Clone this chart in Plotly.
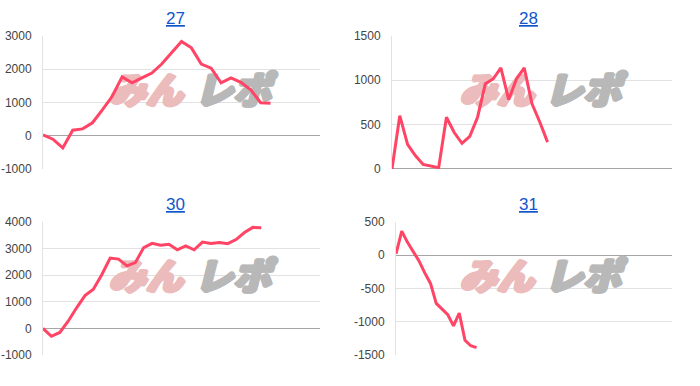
import plotly.graph_objects as go

W, H = 700, 386

titles = ["27", "28", "30", "31"]
values_27 = [20, -107, -369, 165, 204, 388, 777, 1184, 1767, 1592, 1738, 1883, 2155, 2495,
             2835, 2641, 2155, 2029, 1592, 1738, 1602, 1379, 990, 971]
values_28 = [0, 600, 277, 151, 50, 29, 14, 583, 410, 288, 367, 583, 960, 1014, 1140, 781,
             1014, 1140, 734, 529, 302]
values_30 = [0, -301, -157, 265, 771, 1229, 1470, 2012, 2639, 2602, 2349, 2470, 3036, 3193,
             3120, 3157, 2952, 3096, 2952, 3241, 3193, 3229, 3181, 3337, 3602, 3795, 3783]
values_31 = [20, 362, 193, 48, -87, -266, -425, -725, -812, -894, -1063, -870, -1280, -1362, -1391]
series = [values_27, values_28, values_30, values_31]

x_spans = [28, 36, 33, 48]
y_ranges = [(-1000, 3000), (0, 1500), (-1000, 4000), (-1500, 500)]
y_ticks = [[-1000, 0, 1000, 2000, 3000], [0, 500, 1000, 1500],
           [-1000, 0, 1000, 2000, 3000, 4000], [-1500, -1000, -500, 0, 500]]

# pixel layout of plot areas (left, right, top, bottom)
boxes = [(43, 320, 30, 168), (392, 672, 30, 168), (43, 320, 223, 361), (396, 672, 223, 361)]
title_pos = [(175, 12), (528, 12), (175, 205), (528, 205)]
logo_px = [(146, 233), (497, 583), (146, 233), (497, 583)]


def fat(c):
    offs = [(1, 0), (-1, 0), (0, 1), (0, -1), (1, 1), (-1, -1), (1, -1), (-1, 1),
            (2, 0), (-2, 0)]
    return ", ".join(f"{dx}px {dy}px 0 {c}" for dx, dy in offs)


PINK, GRAY = "#ecbcbc", "#b8b8b8"
LINE = "#ff4466"
fig = go.Figure()

for i in range(4):
    n = i + 1
    xa = "x" if n == 1 else f"x{n}"
    ya = "y" if n == 1 else f"y{n}"
    l, r, t, b = boxes[i]
    y0, y1 = y_ranges[i]
    xs = x_spans[i]
    wy = y0 + 0.56 * (y1 - y0)
    px_pink, px_gray = logo_px[i]
    fig.add_trace(go.Scatter(
        x=[(px_pink - l) / (r - l) * xs], y=[wy], mode="text", text=["みん"],
        xaxis=xa, yaxis=ya,
        textfont=dict(family="Noto Sans CJK JP", size=37, color=PINK,
                      weight=900, style="italic", shadow=fat(PINK)),
        hoverinfo="skip", showlegend=False))
    fig.add_trace(go.Scatter(
        x=[(px_gray - l) / (r - l) * xs], y=[wy], mode="text", text=["レポ"],
        xaxis=xa, yaxis=ya,
        textfont=dict(family="Noto Sans CJK JP", size=38, color=GRAY,
                      weight=900, style="italic", shadow=fat(GRAY)),
        hoverinfo="skip", showlegend=False))
    vals = series[i]
    fig.add_trace(go.Scatter(
        x=list(range(len(vals))), y=vals, mode="lines", xaxis=xa, yaxis=ya,
        line=dict(color=LINE, width=3), showlegend=False, hoverinfo="skip"))

    fig.layout[f"xaxis{'' if n == 1 else n}"] = dict(
        domain=[l / W, r / W], range=[0, xs], anchor=ya,
        showgrid=False, zeroline=False, showline=False, showticklabels=False,
        fixedrange=True)
    fig.layout[f"yaxis{'' if n == 1 else n}"] = dict(
        domain=[1 - b / H, 1 - t / H], range=[y0, y1], anchor=xa,
        tickvals=y_ticks[i], ticktext=[str(v) for v in y_ticks[i]],
        showgrid=True, gridcolor="#e2e2e2", gridwidth=1,
        zeroline=True, zerolinecolor="#a6a6a6", zerolinewidth=1,
        showline=True, linecolor="#e2e2e2", linewidth=1,
        ticks="", ticklabelstandoff=8,
        tickfont=dict(family="Arial", size=12, color="#444444"),
        fixedrange=True)
    tx, ty = title_pos[i]
    fig.add_annotation(
        text=f"<u>{titles[i]}</u>", x=tx / W, y=1 - ty / H, xref="paper", yref="paper",
        showarrow=False, xanchor="center", yanchor="middle",
        font=dict(family="Arial", size=17, color="#1155cc"))

fig.update_layout(
    width=W, height=H, margin=dict(l=0, r=0, t=0, b=0),
    paper_bgcolor="white", plot_bgcolor="white", showlegend=False)

fig.write_html("out.html", config={"displayModeBar": False})
